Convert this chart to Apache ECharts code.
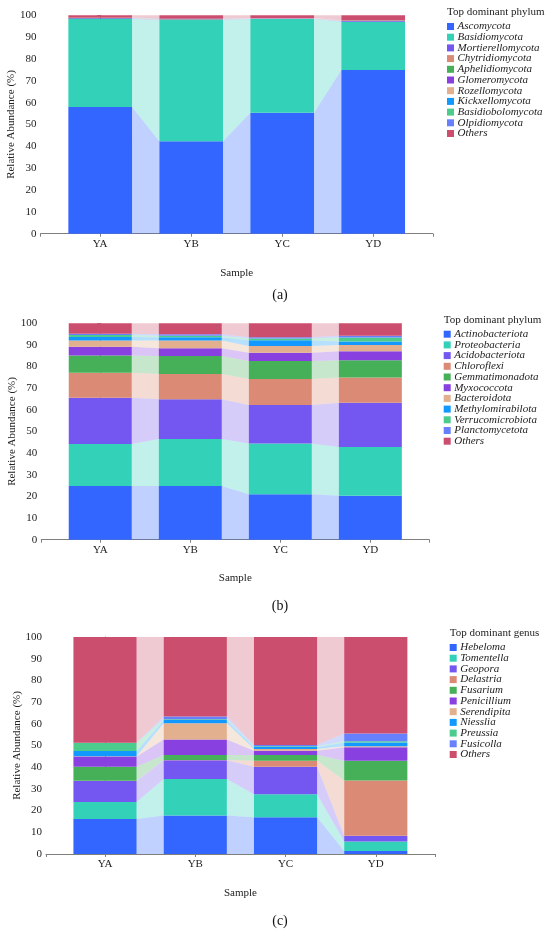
<!DOCTYPE html>
<html>
<head>
<meta charset="utf-8">
<script src="https://cdn.jsdelivr.net/npm/echarts@6.0.0/dist/echarts.min.js"></script>
<style>
  html, body { margin: 0; padding: 0; background: #fff; }
  .panel { position: absolute; left: 0; width: 550px; height: 311px; }
</style>
</head>
<body>
<div id="chartA" class="panel" style="top:0px"></div>
<div id="chartB" class="panel" style="top:311px"></div>
<div id="chartC" class="panel" style="top:622px"></div>
<script>
// samples on the x axis
const samples = ['YA', 'YB', 'YC', 'YD'];

// same colour order is used in all three panels
const palette = ['#3366FF', '#33D1B8', '#7357F0', '#DB8B75', '#45B058', '#8840E0',
                 '#E2B08E', '#1199FF', '#4CCC8C', '#6680FF', '#CC4E6E'];

// (a) fungal phyla, one row per taxon: YA, YB, YC, YD (%)
const phylaA = ['Ascomycota', 'Basidiomycota', 'Mortierellomycota', 'Chytridiomycota',
  'Aphelidiomycota', 'Glomeromycota', 'Rozellomycota', 'Kickxellomycota',
  'Basidiobolomycota', 'Olpidiomycota', 'Others'];
const abundA = [
  [58.0, 42.3, 55.4, 75.0],
  [40.3, 55.6, 42.9, 22.1],
  [0.3, 0.2, 0.2, 0.3],
  [0.1, 0.1, 0.1, 0.05],
  [0.05, 0.05, 0.05, 0.03],
  [0.05, 0.05, 0.05, 0.03],
  [0.05, 0.05, 0.05, 0.03],
  [0.03, 0.03, 0.03, 0.02],
  [0.02, 0.02, 0.02, 0.01],
  [0.02, 0.02, 0.02, 0.01],
  [1.08, 1.58, 1.18, 2.42]
];

// (b) bacterial phyla
const phylaB = ['Actinobacteriota', 'Proteobacteria', 'Acidobacteriota', 'Chloroflexi',
  'Gemmatimonadota', 'Myxococcota', 'Bacteroidota', 'Methylomirabilota',
  'Verrucomicrobiota', 'Planctomycetota', 'Others'];
const abundB = [
  [24.8, 24.8, 21.0, 20.3],
  [19.4, 21.7, 23.5, 22.5],
  [21.4, 18.4, 17.7, 20.5],
  [11.6, 11.7, 12.1, 11.6],
  [7.9, 8.3, 8.3, 8.0],
  [4.1, 3.6, 3.8, 4.2],
  [2.8, 3.5, 3.1, 2.9],
  [1.7, 1.6, 2.7, 1.6],
  [0.9, 0.7, 0.8, 1.8],
  [0.6, 0.6, 0.5, 0.9],
  [4.8, 5.1, 6.5, 5.7]
];

// (c) fungal genera
const generaC = ['Hebeloma', 'Tomentella', 'Geopora', 'Delastria', 'Fusarium',
  'Penicillium', 'Serendipita', 'Niesslia', 'Preussia', 'Fusicolla', 'Others'];
const abundC = [
  [16.1, 17.7, 16.9, 1.4],
  [7.9, 16.9, 10.6, 4.4],
  [9.6, 8.6, 12.7, 2.6],
  [0.1, 0.1, 2.8, 25.5],
  [6.5, 2.3, 2.6, 9.1],
  [4.7, 7.2, 2.0, 6.2],
  [0.1, 7.4, 0.8, 0.4],
  [2.5, 1.6, 0.9, 1.8],
  [3.7, 0.3, 0.4, 0.6],
  [0.1, 1.3, 0.5, 3.5],
  [48.7, 36.6, 49.8, 44.5]
];

const SERIF = '"Liberation Serif", "Times New Roman", serif';
const AXIS_GREY = '#7f7f7f';
const X_MIN = -0.655, X_MAX = 3.655, HALF = 0.35;

function drawPanel(domId, names, rows, legendTitle, tag, lay) {
  const chart = echarts.init(document.getElementById(domId));

  // running bottoms for the stack
  const bottoms = samples.map(() => 0);
  const series = names.map((name, k) => {
    const seg = samples.map((s, i) => {
      const b = bottoms[i];
      const t = b + rows[k][i];
      bottoms[i] = t;
      return [i, b, t];
    });
    const data = seg.map((d, i) => {
      const nx = seg[i + 1];
      return nx ? [d[0], d[1], d[2], nx[1], nx[2]] : [d[0], d[1], d[2], d[1], d[2]];
    });
    return {
      name: name,
      type: 'custom',
      itemStyle: { color: palette[k] },
      encode: { x: 0, y: [1, 2] },
      data: data,
      renderItem: function (params, api) {
        const i = api.value(0);
        const b = api.value(1), t = api.value(2);
        const color = api.visual('color');
        const p0 = api.coord([i - HALF, t]);
        const p1 = api.coord([i + HALF, b]);
        const kids = [{
          type: 'rect',
          shape: { x: p0[0], y: p0[1], width: p1[0] - p0[0], height: p1[1] - p0[1] },
          style: { fill: color }
        }];
        // light band linking this bar to the next sample
        if (i < samples.length - 1) {
          const nb = api.value(3), nt = api.value(4);
          kids.push({
            type: 'polygon',
            shape: {
              points: [
                api.coord([i + HALF, t]),
                api.coord([i + 1 - HALF, nt]),
                api.coord([i + 1 - HALF, nb]),
                api.coord([i + HALF, b])
              ]
            },
            style: { fill: color, opacity: 0.3 }
          });
        }
        return { type: 'group', children: kids };
      }
    };
  });

  const option = {
    animation: false,
    textStyle: { fontFamily: SERIF },
    grid: {
      left: lay.left,
      top: lay.top,
      width: lay.right - lay.left,
      height: lay.zeroY - lay.top,
      containLabel: false,
      outerBoundsMode: 'none'
    },
    xAxis: {
      type: 'value',
      min: X_MIN,
      max: X_MAX,
      name: 'Sample',
      nameLocation: 'middle',
      nameGap: lay.sampleGap,
      nameMoveOverlap: false,
      nameTextStyle: { fontFamily: SERIF, fontSize: 11, color: '#222' },
      axisLine: { show: true, lineStyle: { color: AXIS_GREY, width: 1 } },
      axisTick: { show: true, length: 3, lineStyle: { color: AXIS_GREY },
                  customValues: [X_MIN, 0, 1, 2, 3, X_MAX] },
      axisLabel: { customValues: [0, 1, 2, 3], margin: 5,
                   fontFamily: SERIF, fontSize: 11, color: '#222',
                   formatter: v => samples[Math.round(v)] },
      splitLine: { show: false }
    },
    yAxis: {
      type: 'value',
      min: 0,
      max: 100,
      interval: 10,
      name: 'Relative Abundance (%)',
      nameLocation: 'middle',
      nameGap: 23.5,
      nameMoveOverlap: false,
      nameTextStyle: { fontFamily: SERIF, fontSize: 11, color: '#222' },
      axisLine: { show: true, lineStyle: { color: AXIS_GREY, width: 1 } },
      axisTick: { show: true, length: 3, lineStyle: { color: AXIS_GREY } },
      axisLabel: { margin: 4, fontFamily: SERIF, fontSize: 11, color: '#222' },
      splitLine: { show: false }
    },
    legend: {
      orient: 'vertical',
      left: lay.legendX,
      top: lay.legendTop,
      padding: 0,
      itemWidth: 7,
      itemHeight: 7,
      itemGap: -0.3,
      icon: 'rect',
      data: names,
      textStyle: { fontFamily: SERIF, fontStyle: 'italic', fontSize: 11,
                   lineHeight: 10, color: '#222', padding: [0, 0, 0, -1.5] }
    },
    graphic: [
      { type: 'text', x: lay.legendX, y: lay.titleY,
        style: { text: legendTitle, font: '11px ' + SERIF, fill: '#222', verticalAlign: 'middle' } },
      { type: 'text', x: 280, y: lay.tagY,
        style: { text: tag, font: '14px ' + SERIF, fill: '#111', align: 'center', verticalAlign: 'middle' } }
    ],
    series: series
  };
  chart.setOption(option);
}

drawPanel('chartA', phylaA, abundA, 'Top dominant phylum', '(a)',
  { left: 40.6, right: 432.8, top: 15.3, zeroY: 233.7, legendX: 447, legendTop: 21,
    titleY: 12, sampleGap: 34, tagY: 295 });
drawPanel('chartB', phylaB, abundB, 'Top dominant phylum', '(b)',
  { left: 41.3, right: 429.3, top: 12.3, zeroY: 228.7, legendX: 443.7, legendTop: 17.7,
    titleY: 9, sampleGap: 33.3, tagY: 295 });
drawPanel('chartC', generaC, abundC, 'Top dominant genus', '(c)',
  { left: 45.9, right: 434.9, top: 15, zeroY: 232, legendX: 449.7, legendTop: 20,
    titleY: 11, sampleGap: 33.7, tagY: 299 });
</script>
</body>
</html>
